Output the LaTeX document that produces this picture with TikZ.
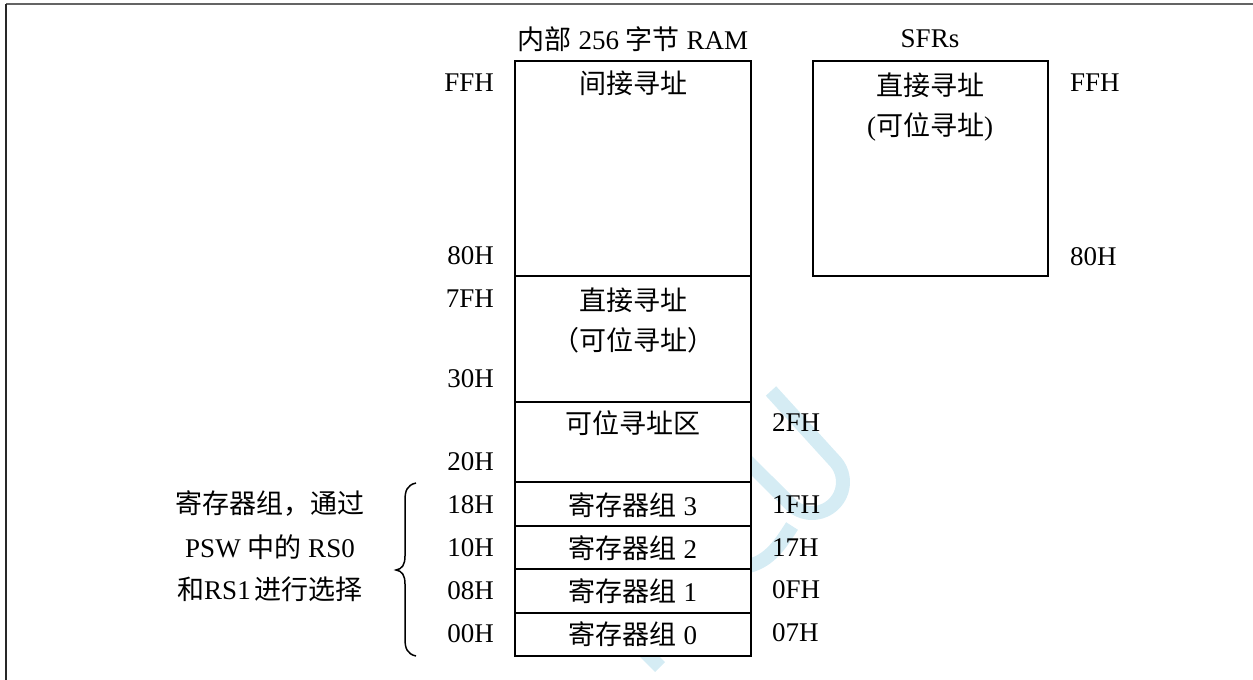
\documentclass[tikz,border=0pt]{standalone}
\usepackage{fontspec}
\setmainfont{Liberation Serif}
\newfontfamily\cjkfont{Noto Sans CJK SC}
\newcommand{\zh}[1]{{\cjkfont #1}}
\definecolor{wm}{RGB}{213,236,244}
\definecolor{framegray}{RGB}{100,100,100}
\definecolor{framedark}{RGB}{40,40,40}
\tikzset{
  txt/.style={font=\fontsize{27}{32}\selectfont, inner sep=0pt},
  lab/.style={txt, anchor=east},
  rlab/.style={txt, anchor=west},
  cellbox/.style={draw=black, line width=2pt, fill=white},
  wmark/.style={draw=wm, line width=14pt},
}
\begin{document}
\begin{tikzpicture}[x=1pt,y=-1pt]
\useasboundingbox (0,0) rectangle (1253,680);
% frame
\draw[framegray, line width=2pt] (6,4) -- (1253,4);
\draw[framedark, line width=2pt] (6,4) -- (6,680);
% watermark (behind boxes)
\draw[wmark] (771,391) -- (833.9,460.1) .. controls (846,472.2) and (846,491.8) .. (833.9,503.9)
  .. controls (821.8,516) and (802.2,516) .. (790.1,503.9) -- (745,459);
\draw[wmark] (792,526) .. controls (778,548) and (768,562) .. (745,567);
\draw[wmark] (610,617) -- (660,667);
% RAM boxes
\draw[cellbox] (515,61) rectangle (751,276);
\draw[cellbox] (515,276) rectangle (751,402);
\draw[cellbox] (515,402) rectangle (751,482);
\draw[cellbox] (515,482) rectangle (751,526);
\draw[cellbox] (515,526) rectangle (751,569);
\draw[cellbox] (515,569) rectangle (751,613);
\draw[cellbox] (515,613) rectangle (751,656);
% SFR box
\draw[cellbox] (813,61) rectangle (1048,276);
% titles
\node[txt] (ramtitle) at (633,39) {\zh{内部} 256 \zh{字节} RAM};
\node[txt] (sfrtitle) at (930,39) {SFRs};
% RAM texts
\node[txt] (indir) at (633,83) {\zh{间接寻址}};
\node[txt] (dir) at (633,300) {\zh{直接寻址}};
\node[txt] (dirb) at (633,340) {\zh{（可位寻址）}};
\node[txt] (bitarea) at (633,423) {\zh{可位寻址区}};
\node[txt] (rb3) at (633,505) {\zh{寄存器组} 3};
\node[txt] (rb2) at (633,548) {\zh{寄存器组} 2};
\node[txt] (rb1) at (633,591) {\zh{寄存器组} 1};
\node[txt] (rb0) at (633,634) {\zh{寄存器组} 0};
% SFR texts
\node[txt] (sfrdir) at (930,85) {\zh{直接寻址}};
\node[txt] (sfrbit) at (930,127) {(\zh{可位寻址})};
% left addresses
\node[lab] (aFF) at (494,83) {FFH};
\node[lab] (a80) at (494,256) {80H};
\node[lab] (a7F) at (494,299) {7FH};
\node[lab] (a30) at (494,379) {30H};
\node[lab] (a20) at (494,462) {20H};
\node[lab] (a18) at (494,505) {18H};
\node[lab] (a10) at (494,548) {10H};
\node[lab] (a08) at (494,591) {08H};
\node[lab] (a00) at (494,634) {00H};
% right addresses
\node[rlab] (a2F) at (772,423) {2FH};
\node[rlab] (a1F) at (772,505) {1FH};
\node[rlab] (a17) at (772,548) {17H};
\node[rlab] (a0F) at (772,590) {0FH};
\node[rlab] (a07) at (772,633) {07H};
\node[rlab] (sFF) at (1070,83) {FFH};
\node[rlab] (s80) at (1070,257) {80H};
% left note
\node[txt] (note1) at (270,504) {\zh{寄存器组，通过}};
\node[txt] (note2) at (270,547) {PSW \zh{中的} RS0};
\node[txt] (note3) at (270,589) {\zh{和}RS1\hspace{4pt}\zh{进行选择}};
% brace
\draw[black, line width=1.5pt] (416,483) .. controls (407,485) and (405,491) .. (405,500)
  -- (405,556) .. controls (405,565) and (402,569) .. (396,570)
  .. controls (402,571) and (405,575) .. (405,584)
  -- (405,639) .. controls (405,648) and (407,654) .. (416,656);
\end{tikzpicture}
\end{document}
